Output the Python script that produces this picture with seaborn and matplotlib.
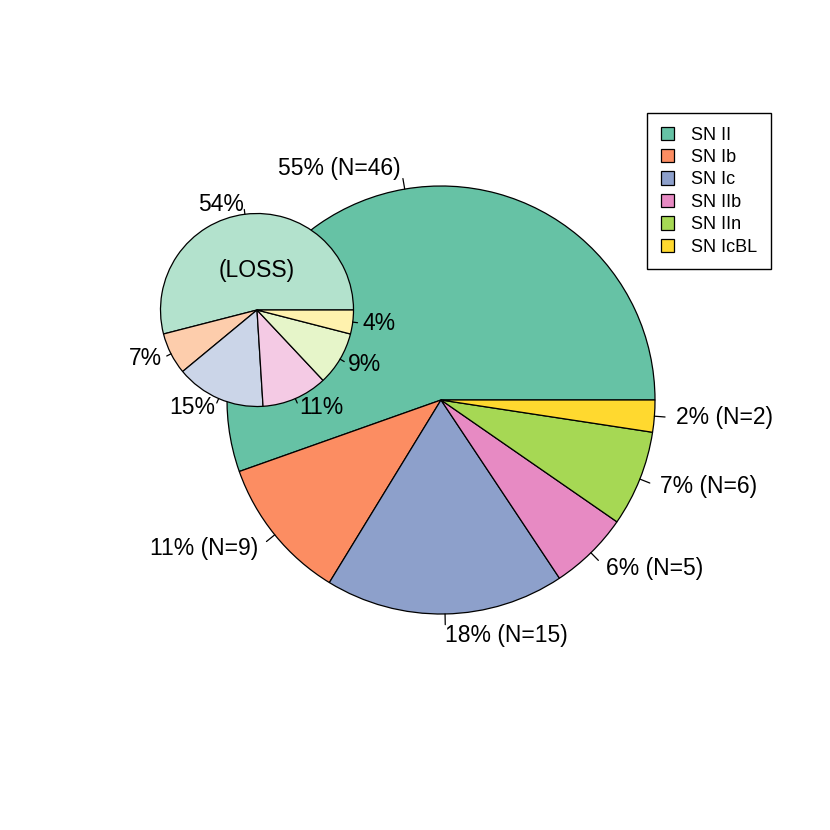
import matplotlib
matplotlib.use("Agg")
import matplotlib.pyplot as plt
import matplotlib.patches as mpatches
import numpy as np
import seaborn as sns

sns.set_style("white")
plt.rcParams["font.family"] = ["Liberation Sans", "DejaVu Sans"]
plt.rcParams["text.color"] = "black"

# podaci
tipovi = ["SN II", "SN Ib", "SN Ic", "SN IIb", "SN IIn", "SN IcBL"]
broj_sn = [46, 9, 15, 5, 6, 2]
loss_postotci = [54, 7, 15, 11, 9, 4]

boje_glavne = sns.color_palette("Set2", 6)
boje_loss = sns.color_palette("Pastel2", 6)

VEL_OZNAKE = 16.5


def nacrtaj_pitu(ax, vrijednosti, oznake, boje, sredina, radius, zorder):
    wedges, _ = ax.pie(vrijednosti, colors=boje, startangle=0, counterclock=True,
                       center=sredina, radius=radius, frame=True,
                       wedgeprops=dict(edgecolor="black", linewidth=0.9))
    for w in wedges:
        w.set_zorder(zorder)
    udjeli = np.cumsum([0] + list(vrijednosti)) / np.sum(vrijednosti)
    for i, oznaka in enumerate(oznake):
        kut = 2 * np.pi * (udjeli[i] + udjeli[i + 1]) / 2
        c, s = np.cos(kut), np.sin(kut)
        ax.plot([sredina[0] + radius * c, sredina[0] + 1.05 * radius * c],
                [sredina[1] + radius * s, sredina[1] + 1.05 * radius * s],
                color="black", lw=0.9, zorder=zorder)
        ax.text(sredina[0] + 1.1 * radius * c, sredina[1] + 1.1 * radius * s, oznaka,
                ha="left" if c > 0 else "right", va="center", fontsize=VEL_OZNAKE,
                color="black", zorder=zorder + 1)


fig = plt.figure(figsize=(8.3, 8.3), dpi=100)
ax = fig.add_axes([0, 0, 1, 1])

ukupno = sum(broj_sn)
oznake_glavne = [f"{round(100 * n / ukupno)}% (N={n})" for n in broj_sn]
nacrtaj_pitu(ax, broj_sn, oznake_glavne, boje_glavne, (441, 430), 214, 2)

oznake_loss = [f"{p}%" for p in loss_postotci]
nacrtaj_pitu(ax, loss_postotci, oznake_loss, boje_loss, (257, 520), 96.5, 5)
ax.text(257, 559, "(LOSS)", ha="center", va="center", fontsize=VEL_OZNAKE,
        color="black", zorder=7)

ax.set_xlim(0, 830)
ax.set_ylim(0, 830)
ax.set_aspect("equal")
ax.axis("off")

rucke = [mpatches.Patch(facecolor=b, edgecolor="black", linewidth=0.9) for b in boje_glavne]
fig.legend(rucke, tipovi, loc="upper right", bbox_to_anchor=(771 / 830, 1 - 113 / 830),
           fancybox=False, edgecolor="black", framealpha=1, fontsize=13,
           handlelength=0.75, handleheight=0.75, labelspacing=0.3,
           borderpad=0.75, handletextpad=0.95, borderaxespad=0)

fig.savefig("out.png", dpi=100)
